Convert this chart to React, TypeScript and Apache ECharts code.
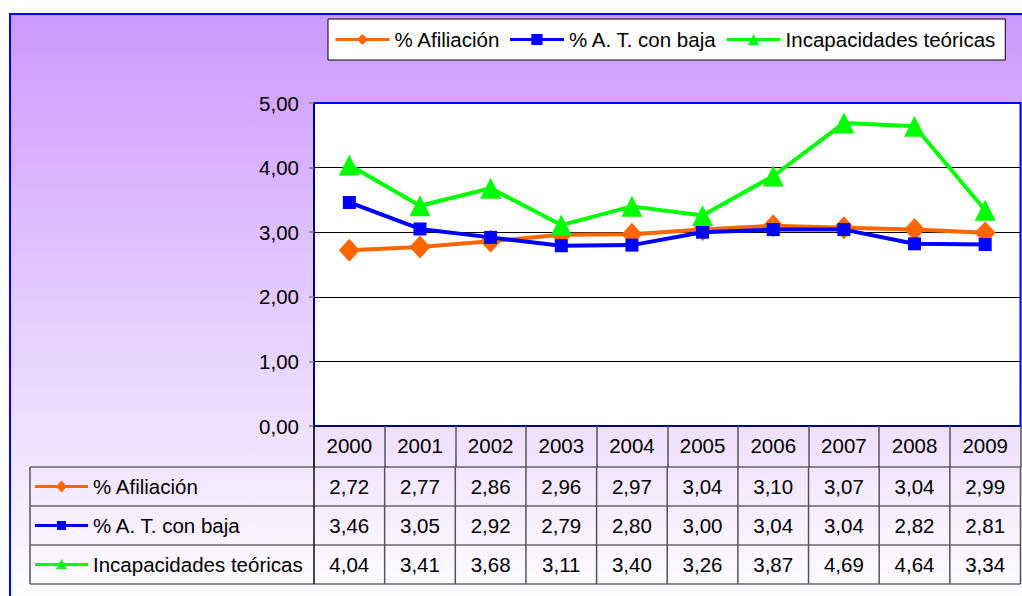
import { useEffect, useRef } from 'react';
import * as echarts from 'echarts';

const categories = ['2000', '2001', '2002', '2003', '2004', '2005', '2006', '2007', '2008', '2009'];
const afiliacion = [2.72, 2.77, 2.86, 2.96, 2.97, 3.04, 3.1, 3.07, 3.04, 2.99];
const atConBaja = [3.46, 3.05, 2.92, 2.79, 2.8, 3.0, 3.04, 3.04, 2.82, 2.81];
const incapacidades = [4.04, 3.41, 3.68, 3.11, 3.4, 3.26, 3.87, 4.69, 4.64, 3.34];
const seriesNames = ['% Afiliación', '% A. T. con baja', 'Incapacidades teóricas'];
const seriesColors = ['#FF6600', '#0000FF', '#00FF00'];
const yMin = 0;
const yMax = 5;
const yInterval = 1;

const FONT = "'Liberation Sans', Arial, sans-serif";
const FS = 20.5;
const fmt = (v: number) => v.toFixed(2).replace('.', ',');

export default function App() {
  const ref = useRef<HTMLDivElement>(null);

  useEffect(() => {
    const chart = echarts.init(ref.current!, null, { renderer: 'svg' });
    const rows = [afiliacion, atConBaja, incapacidades];
    const symbols = ['diamond', 'rect', 'triangle'];
    const symbolSizes = [[21, 23], 13, [21, 21]];

    chart.setOption({
      animation: false,
      backgroundColor: '#ffffff',
      textStyle: { fontFamily: FONT },
      legend: {
        left: 328,
        top: 19,
        padding: [10, 10, 10, 6],
        itemWidth: 54,
        itemHeight: 14,
        itemGap: 8,
        backgroundColor: '#ffffff',
        borderColor: '#000000',
        borderWidth: 1,
        selectedMode: false,
        lineStyle: { width: 3 },
        textStyle: { fontSize: FS, fontFamily: FONT, color: '#000' },
        data: seriesNames,
      },
      grid: {
        left: 314,
        top: 103,
        right: 1.5,
        bottom: 170,
        show: true,
        backgroundColor: '#ffffff',
        borderWidth: 0,
      },
      xAxis: {
        type: 'category',
        data: categories,
        boundaryGap: true,
        axisLine: { show: true, lineStyle: { color: '#000080', width: 2 } },
        axisTick: { show: true, interval: 0, length: 41, alignWithLabel: false, lineStyle: { color: '#555555', width: 1.5 } },
        axisLabel: { interval: 0, margin: 9, fontSize: FS, fontFamily: FONT, color: '#000' },
        splitLine: { show: false },
      },
      yAxis: {
        type: 'value',
        min: yMin,
        max: yMax,
        interval: yInterval,
        axisLine: { show: true, lineStyle: { color: '#000080', width: 2 } },
        axisTick: { show: true, length: 5, lineStyle: { color: '#808080', width: 1.5 } },
        axisLabel: { margin: 15, fontSize: FS, fontFamily: FONT, color: '#000', formatter: (v: number) => fmt(v) },
        splitLine: { show: true, showMaxLine: false, showMinLine: false, lineStyle: { color: '#000', width: 1 } },
      },
      series: rows.map((d, i) => ({
        name: seriesNames[i],
        type: 'line',
        data: d,
        symbol: symbols[i],
        symbolSize: symbolSizes[i],
        showAllSymbol: true,
        lineStyle: { color: seriesColors[i], width: 4 },
        itemStyle: { color: seriesColors[i] },
        z: 20 + i,
      })),
    });

    const xs = categories.map((c) => chart.convertToPixel({ xAxisIndex: 0 }, c) as number);
    const half = (xs[1] - xs[0]) / 2;
    const colEdges = [xs[0] - half, ...xs.map((x) => x + half)];
    const left = colEdges[0];
    const right = colEdges[colEdges.length - 1];
    const axisY = chart.convertToPixel({ yAxisIndex: 0 }, yMin) as number;
    const topY = chart.convertToPixel({ yAxisIndex: 0 }, yMax) as number;
    const tableTop = axisY + 41;
    const rowH = 39;
    const tableLeft = 30;
    const rowYs = rows.map((_, i) => tableTop + i * rowH);
    const tableBottom = tableTop + rows.length * rowH;

    const g: any[] = [];
    g.push({
      type: 'rect',
      z: -100,
      silent: true,
      shape: { x: 10, y: 14, width: 1100, height: 600 },
      style: {
        fill: new echarts.graphic.LinearGradient(0, 0, 0, 1, [
          { offset: 0, color: '#CC99FF' },
          { offset: 1, color: '#FFFFFF' },
        ]),
        stroke: '#0000FF',
        lineWidth: 2,
      },
    });
    // blue top and right border of plot area
    g.push({
      type: 'polyline',
      z: 40,
      silent: true,
      shape: { points: [[left, topY], [right, topY], [right, axisY]] },
      style: { stroke: '#0000FF', lineWidth: 2, fill: null },
    });
    for (let i = 0; i <= rows.length; i++) {
      const y = tableTop + i * rowH;
      g.push({
        type: 'line',
        z: 50,
        silent: true,
        shape: { x1: tableLeft, y1: y, x2: right, y2: y },
        style: { stroke: '#222', lineWidth: 1.2 },
      });
    }
    [tableLeft, ...colEdges].forEach((x, idx) => {
      g.push({
        type: 'line',
        z: 50,
        silent: true,
        shape: { x1: x, y1: idx === 1 ? axisY : tableTop, x2: x, y2: tableBottom },
        style: { stroke: idx === 1 ? '#111' : '#555', lineWidth: 1.5 },
      });
    });
    rows.forEach((d, r) => {
      const cy = rowYs[r] + rowH / 2;
      const color = seriesColors[r];
      g.push({
        type: 'line',
        z: 60,
        silent: true,
        shape: { x1: 35, y1: cy, x2: 88, y2: cy },
        style: { stroke: color, lineWidth: 3 },
      });
      const cx = 61.5;
      if (symbols[r] === 'diamond') {
        g.push({
          type: 'polygon',
          z: 61,
          silent: true,
          shape: { points: [[cx, cy - 6], [cx + 5.5, cy], [cx, cy + 6], [cx - 5.5, cy]] },
          style: { fill: color },
        });
      } else if (symbols[r] === 'rect') {
        g.push({
          type: 'rect',
          z: 61,
          silent: true,
          shape: { x: cx - 4.5, y: cy - 4.5, width: 9, height: 9 },
          style: { fill: color },
        });
      } else {
        g.push({
          type: 'polygon',
          z: 61,
          silent: true,
          shape: { points: [[cx, cy - 5.5], [cx + 5.5, cy + 4.5], [cx - 5.5, cy + 4.5]] },
          style: { fill: color },
        });
      }
      g.push({
        type: 'text',
        z: 60,
        silent: true,
        style: {
          text: seriesNames[r],
          x: 93,
          y: cy,
          fontSize: FS,
          fontFamily: FONT,
          fill: '#000',
          align: 'left',
          verticalAlign: 'middle',
        },
      });
      d.forEach((v, i) => {
        g.push({
          type: 'text',
          z: 60,
          silent: true,
          style: {
            text: fmt(v),
            x: xs[i],
            y: cy,
            fontSize: FS,
            fontFamily: FONT,
            fill: '#000',
            align: 'center',
            verticalAlign: 'middle',
          },
        });
      });
    });

    chart.setOption({ graphic: { elements: g } });

    return () => chart.dispose();
  }, []);

  return (
    <div
      ref={ref}
      style={{ position: 'fixed', left: 0, top: 0, width: 1022, height: 596 }}
    />
  );
}
